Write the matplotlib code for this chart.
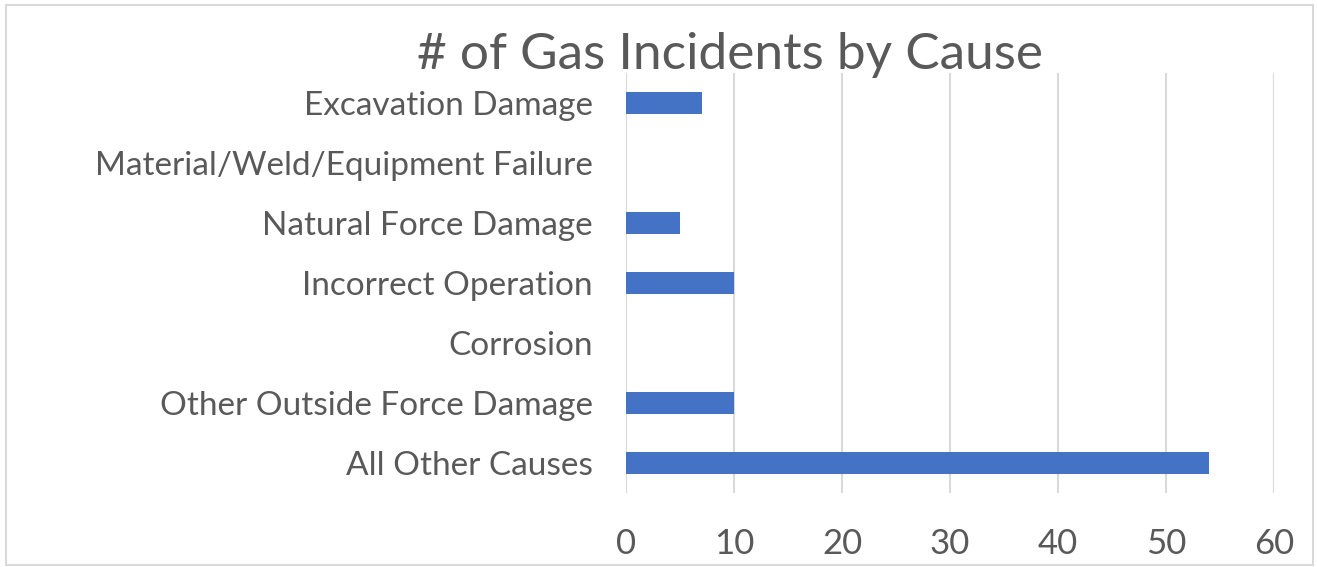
import numpy as np
import matplotlib.pyplot as plt
from matplotlib.patches import Rectangle

causes = ["Excavation Damage", "Material/Weld/Equipment Failure", "Natural Force Damage",
          "Incorrect Operation", "Corrosion", "Other Outside Force Damage", "All Other Causes"]
counts = [7, 0, 5, 10, 0, 10, 54]
xticks = [0, 10, 20, 30, 40, 50, 60]

plt.rcParams['font.family'] = ['Lato', 'DejaVu Sans']
text_color = '#595959'

fig = plt.figure(figsize=(13.17, 5.67), dpi=100)
ax = fig.add_axes([626 / 1317, 1 - 493 / 567, (1274 - 626) / 1317, (493 - 73) / 567])

y = np.arange(len(causes))[::-1]
ax.barh(y, counts, height=0.37, color='#4472C4', zorder=3)

ax.set_xlim(0, 60)
ax.set_ylim(-0.5, len(causes) - 0.5)
ax.set_xticks(xticks)
ax.set_xticklabels([str(t) for t in xticks], fontsize=25, color=text_color)
ax.set_yticks(y)
ax.set_yticklabels(causes, fontsize=24, color=text_color)
ax.tick_params(axis='x', length=0, pad=25)
ax.tick_params(axis='y', length=0, pad=24)
ax.grid(axis='x', color='#D9D9D9', linewidth=1.5, zorder=0)
for s in ax.spines.values():
    s.set_visible(False)

fig.text(730 / 1317, 1 - 55 / 567, "# of Gas Incidents by Cause", ha='center', va='center',
         fontsize=37, color=text_color)

fig.patches.append(Rectangle((6 / 1317, 2 / 567), 1307 / 1317, 560 / 567, transform=fig.transFigure,
                             fill=False, edgecolor='#D9D9D9', linewidth=1.5))

plt.savefig('out.png', dpi=100)
